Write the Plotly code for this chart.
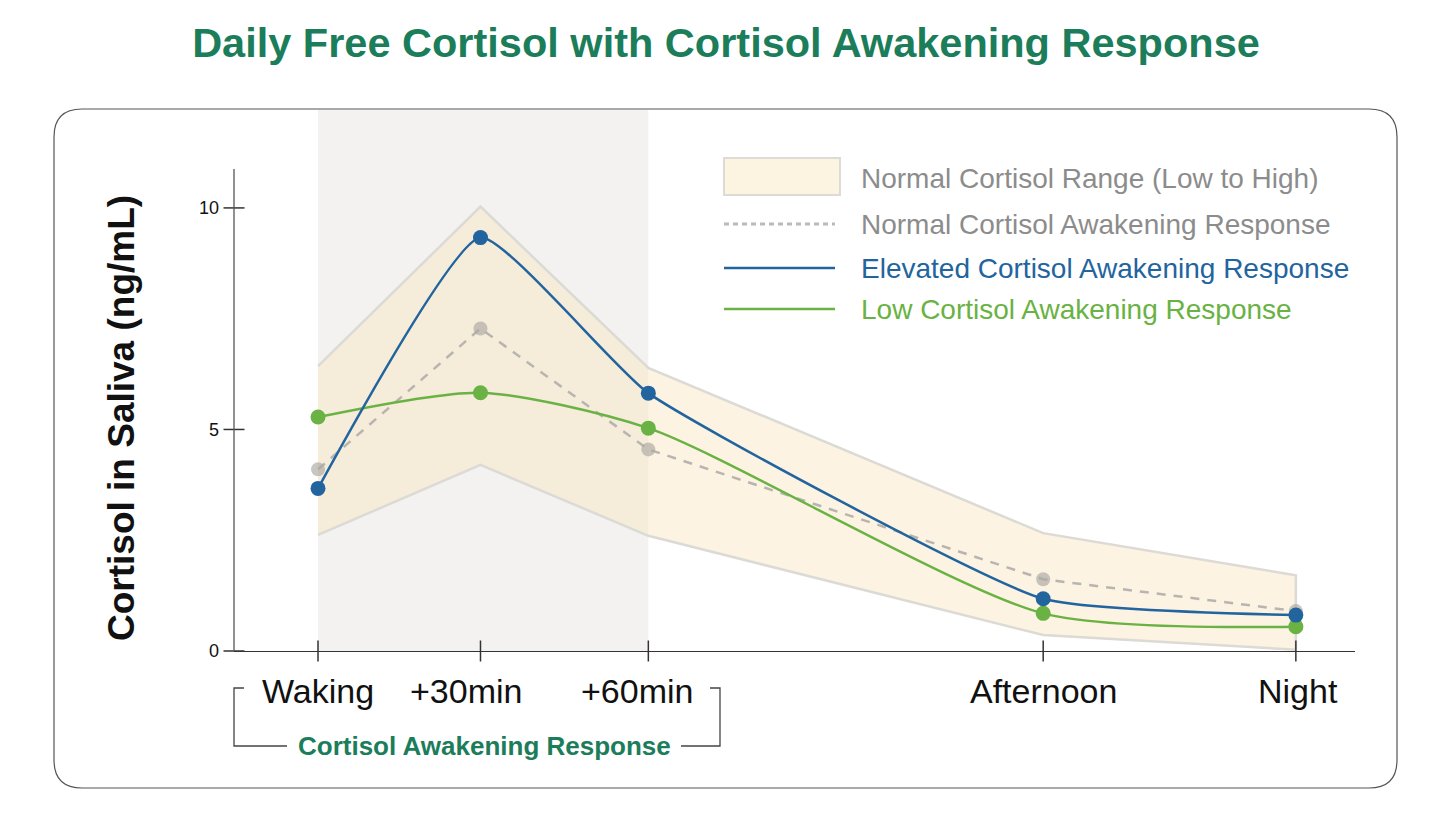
import plotly.graph_objects as go

# time points (x positions follow the spacing of the original artwork)
labels = ["Waking", "+30min", "+60min", "Afternoon", "Night"]
x_pos = [0, 1.0, 2.033, 4.463, 6.018]

# cortisol in saliva, ng/mL
range_high = [6.43, 10.03, 6.39, 2.66, 1.71]
range_low = [2.62, 4.2, 2.6, 0.36, 0.03]
normal_car = [4.1, 7.28, 4.55, 1.62, 0.9]
elevated_car = [3.67, 9.33, 5.82, 1.18, 0.81]
low_car = [5.28, 5.83, 5.03, 0.85, 0.55]

y_ticks = [0, 5, 10]
label_shift = [0, -14, -11, 0, 2]

legend_names = [
    "Normal Cortisol Range (Low to High)",
    "Normal Cortisol Awakening Response",
    "Elevated Cortisol Awakening Response",
    "Low Cortisol Awakening Response",
]

# page has an 8px body margin, so work in window pixels and shift back
OFF = 8
WIN_W, WIN_H = 1456, 822
W, H = WIN_W - OFF, WIN_H - OFF
L, R, T, B = 234 - OFF, 101, 110 - OFF, 171
X_RANGE = [-0.517, 6.382]
Y_RANGE = [0, 12.21]
Y_TOP = 10.88

FONT = "Liberation Sans, Arial, sans-serif"
GREEN_TITLE = "#1b7d5a"
BLUE = "#22649e"
GREEN = "#69b243"
GRAY_LINE = "#b8b5b0"
LEG_GRAY = "#8c8c8c"


def px(x):
    return (x - OFF - L) / (W - L - R)


def py(y):
    return (WIN_H - B - y) / (H - T - B)


fig = go.Figure()

# normal range band
fig.add_trace(go.Scatter(
    x=x_pos + x_pos[::-1], y=range_high + range_low[::-1],
    fill="toself", fillcolor="rgba(248,228,190,0.45)",
    line=dict(color="#dcdad5", width=2.5), mode="lines", hoverinfo="skip"))

fig.add_trace(go.Scatter(
    x=x_pos, y=normal_car, mode="lines+markers",
    line=dict(color=GRAY_LINE, width=2.5, dash="9px,8px"),
    marker=dict(size=14, color="rgba(170,167,162,0.65)")))

fig.add_trace(go.Scatter(
    x=x_pos, y=low_car, mode="lines+markers",
    line=dict(color=GREEN, width=2.5, shape="spline", smoothing=0.7),
    marker=dict(size=15, color=GREEN), cliponaxis=False))

fig.add_trace(go.Scatter(
    x=x_pos, y=elevated_car, mode="lines+markers",
    line=dict(color=BLUE, width=2.5, shape="spline", smoothing=0.45),
    marker=dict(size=15, color=BLUE), cliponaxis=False))

# tick marks crossing the axes
fig.add_trace(go.Scatter(
    x=x_pos, y=[0] * len(x_pos), mode="markers", cliponaxis=False,
    marker=dict(symbol="line-ns", size=15, line=dict(width=1.5, color="#333"))))
fig.add_trace(go.Scatter(
    x=[X_RANGE[0]] * len(y_ticks), y=y_ticks, mode="markers", cliponaxis=False,
    marker=dict(symbol="line-ew", size=15, line=dict(width=1.5, color="#333"))))

shapes = []
# shaded awakening window
shapes.append(dict(type="rect", xref="x", yref="paper", x0=x_pos[0], x1=x_pos[2],
                   y0=0, y1=1, fillcolor="#f3f2f1", line=dict(width=0), layer="below"))
# y axis line
shapes.append(dict(type="line", xref="paper", yref="y", x0=0, x1=0, y0=0, y1=Y_TOP,
                   line=dict(color="#555", width=1.3)))

# rounded frame
fl, fr, ft, fb, rad = 54, 1397, 109, 788, 28
path = (f"M {px(fl + rad)},{py(ft)} L {px(fr - rad)},{py(ft)} "
        f"Q {px(fr)},{py(ft)} {px(fr)},{py(ft + rad)} "
        f"L {px(fr)},{py(fb - rad)} Q {px(fr)},{py(fb)} {px(fr - rad)},{py(fb)} "
        f"L {px(fl + rad)},{py(fb)} Q {px(fl)},{py(fb)} {px(fl)},{py(fb - rad)} "
        f"L {px(fl)},{py(ft + rad)} Q {px(fl)},{py(ft)} {px(fl + rad)},{py(ft)} Z")
shapes.append(dict(type="path", xref="paper", yref="paper", path=path,
                   line=dict(color="#555", width=1.2), layer="below"))

# bracket under the awakening labels
for p in [[(244, 688), (234, 688), (234, 746), (287, 746)],
          [(681, 746), (720, 746), (720, 688), (710, 688)]]:
    d = "M " + " L ".join(f"{px(a)},{py(b)}" for a, b in p)
    shapes.append(dict(type="path", xref="paper", yref="paper", path=d,
                       line=dict(color="#444", width=1.3)))

# custom legend
shapes.append(dict(type="rect", xref="paper", yref="paper", x0=px(724), x1=px(840),
                   y0=py(195), y1=py(158), fillcolor="#fdf3e1",
                   line=dict(color="#dddbd6", width=2)))
shapes.append(dict(type="line", xref="paper", yref="paper", x0=px(724), x1=px(835),
                   y0=py(224), y1=py(224),
                   line=dict(color="#bdbab6", width=3, dash="5px,4px")))
shapes.append(dict(type="line", xref="paper", yref="paper", x0=px(724), x1=px(835),
                   y0=py(268), y1=py(268), line=dict(color=BLUE, width=2.5)))
shapes.append(dict(type="line", xref="paper", yref="paper", x0=px(724), x1=px(835),
                   y0=py(309), y1=py(309), line=dict(color=GREEN, width=2.5)))

annotations = []
for name, yy, col in zip(legend_names, [179, 224, 268, 309],
                         [LEG_GRAY, LEG_GRAY, BLUE, GREEN]):
    annotations.append(dict(text=name, xref="paper", yref="paper", x=px(859), y=py(yy),
                            xanchor="left", yanchor="middle", showarrow=False,
                            font=dict(family=FONT, size=28, color=col)))

for lab, xv, sh in zip(labels, x_pos, label_shift):
    annotations.append(dict(text=lab, xref="x", yref="y", x=xv, y=0, xanchor="center",
                            yanchor="top", yshift=-19, xshift=sh, showarrow=False,
                            font=dict(family=FONT, size=34, color="#111")))

annotations.append(dict(text="<b>Cortisol Awakening Response</b>", xref="paper", yref="paper",
                        x=px(484), y=py(746), xanchor="center", yanchor="middle",
                        showarrow=False, font=dict(family=FONT, size=26, color=GREEN_TITLE)))
annotations.append(dict(text="<b>Cortisol in Saliva (ng/mL)</b>", xref="paper", yref="paper",
                        x=px(121), y=py(418), textangle=-90, xanchor="center",
                        yanchor="middle", showarrow=False,
                        font=dict(family=FONT, size=37, color="#111")))

fig.update_layout(
    width=W, height=H,
    margin=dict(l=L, r=R, t=T, b=B),
    paper_bgcolor="white", plot_bgcolor="white",
    showlegend=False,
    title=dict(text="<b>Daily Free Cortisol with Cortisol Awakening Response</b>",
               xref="container", x=(726 - OFF) / W, xanchor="center",
               y=1 - (42 - OFF) / H, yanchor="middle",
               font=dict(family=FONT, size=41.5, color=GREEN_TITLE)),
    xaxis=dict(range=X_RANGE, showline=True, linecolor="#333", linewidth=1.3,
               showticklabels=False, showgrid=False, zeroline=False, ticks=""),
    yaxis=dict(range=Y_RANGE, showline=False, showgrid=False, zeroline=False,
               tickvals=y_ticks, ticks="", ticklabelstandoff=14,
               tickfont=dict(family=FONT, size=18, color="#111")),
    shapes=shapes,
    annotations=annotations,
)

fig.write_html("out.html")
